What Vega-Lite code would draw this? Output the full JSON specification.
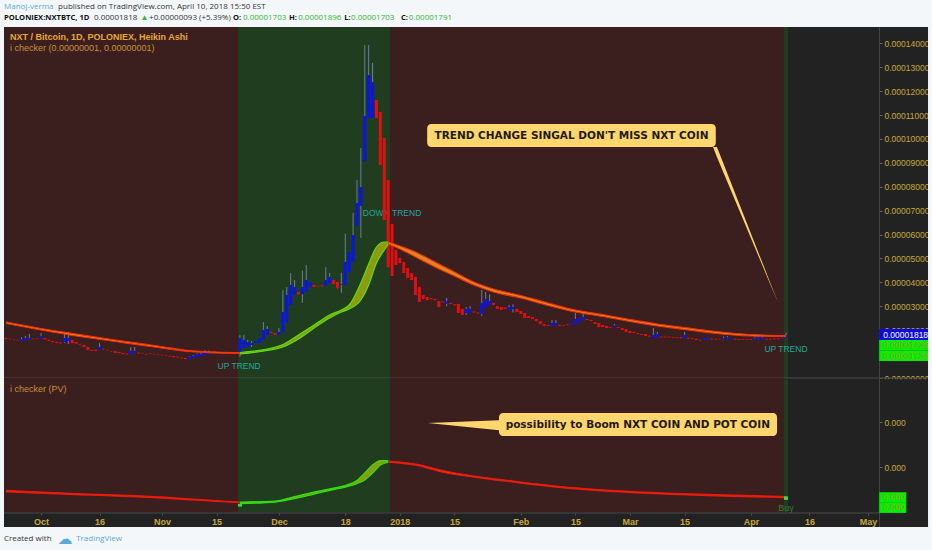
{
  "$schema": "https://vega.github.io/schema/vega-lite/v6.json",
  "width": 932,
  "height": 550,
  "autosize": {"type": "none"},
  "padding": 0,
  "background": "#f4f7fa",
  "config": {"view": {"stroke": null, "fill": "#222222"}, "text": {"font": "Liberation Sans"}},
  "datasets": {
    "phases": [
      {"start": "2017-09-21T12:00:00Z", "end": "2017-11-20T12:00:00Z", "trend": "down"},
      {"start": "2017-11-20T12:00:00Z", "end": "2017-12-29T12:00:00Z", "trend": "up"},
      {"start": "2017-12-29T12:00:00Z", "end": "2018-04-09T12:00:00Z", "trend": "down"},
      {"start": "2018-04-09T12:00:00Z", "end": "2018-04-10T12:00:00Z", "trend": "up"}
    ],
    "candles": [
      {"date": "2017-09-22", "open": 1670, "close": 1630, "high": 1680, "low": 1620},
      {"date": "2017-09-23", "open": 1640, "close": 1620, "high": 1640, "low": 1620},
      {"date": "2017-09-24", "open": 1600, "close": 1580, "high": 1600, "low": 1580},
      {"date": "2017-09-25", "open": 1600, "close": 1580, "high": 1600, "low": 1580},
      {"date": "2017-09-26", "open": 1550, "close": 1630, "high": 1700, "low": 1540},
      {"date": "2017-09-27", "open": 1590, "close": 1670, "high": 1760, "low": 1590},
      {"date": "2017-09-28", "open": 1600, "close": 1680, "high": 1840, "low": 1600},
      {"date": "2017-09-29", "open": 1640, "close": 1620, "high": 1640, "low": 1620},
      {"date": "2017-09-30", "open": 1650, "close": 1630, "high": 1650, "low": 1630},
      {"date": "2017-10-01", "open": 1670, "close": 1760, "high": 1880, "low": 1670},
      {"date": "2017-10-02", "open": 1670, "close": 1620, "high": 1670, "low": 1620},
      {"date": "2017-10-03", "open": 1600, "close": 1550, "high": 1600, "low": 1550},
      {"date": "2017-10-04", "open": 1550, "close": 1500, "high": 1550, "low": 1500},
      {"date": "2017-10-05", "open": 1510, "close": 1460, "high": 1510, "low": 1460},
      {"date": "2017-10-06", "open": 1480, "close": 1450, "high": 1480, "low": 1450},
      {"date": "2017-10-07", "open": 1500, "close": 1670, "high": 1900, "low": 1460},
      {"date": "2017-10-08", "open": 1550, "close": 1670, "high": 1930, "low": 1420},
      {"date": "2017-10-09", "open": 1590, "close": 1460, "high": 1590, "low": 1460},
      {"date": "2017-10-10", "open": 1510, "close": 1440, "high": 1510, "low": 1440},
      {"date": "2017-10-11", "open": 1430, "close": 1400, "high": 1430, "low": 1400},
      {"date": "2017-10-12", "open": 1380, "close": 1300, "high": 1380, "low": 1300},
      {"date": "2017-10-13", "open": 1300, "close": 1170, "high": 1300, "low": 1170},
      {"date": "2017-10-14", "open": 1170, "close": 1130, "high": 1170, "low": 1130},
      {"date": "2017-10-15", "open": 1180, "close": 1130, "high": 1180, "low": 1130},
      {"date": "2017-10-16", "open": 1170, "close": 1300, "high": 1460, "low": 1170},
      {"date": "2017-10-17", "open": 1220, "close": 1200, "high": 1220, "low": 1200},
      {"date": "2017-10-18", "open": 1180, "close": 1160, "high": 1180, "low": 1160},
      {"date": "2017-10-19", "open": 1130, "close": 1110, "high": 1130, "low": 1110},
      {"date": "2017-10-20", "open": 1130, "close": 1050, "high": 1130, "low": 1050},
      {"date": "2017-10-21", "open": 1090, "close": 1040, "high": 1090, "low": 1040},
      {"date": "2017-10-22", "open": 1050, "close": 1000, "high": 1050, "low": 1000},
      {"date": "2017-10-23", "open": 1020, "close": 990, "high": 1020, "low": 990},
      {"date": "2017-10-24", "open": 1000, "close": 1130, "high": 1290, "low": 1000},
      {"date": "2017-10-25", "open": 1050, "close": 1130, "high": 1300, "low": 1050},
      {"date": "2017-10-26", "open": 1060, "close": 1030, "high": 1060, "low": 1030},
      {"date": "2017-10-27", "open": 1050, "close": 1030, "high": 1050, "low": 1030},
      {"date": "2017-10-28", "open": 1010, "close": 990, "high": 1010, "low": 990},
      {"date": "2017-10-29", "open": 1030, "close": 1010, "high": 1030, "low": 1010},
      {"date": "2017-10-30", "open": 1010, "close": 990, "high": 1010, "low": 990},
      {"date": "2017-10-31", "open": 990, "close": 970, "high": 990, "low": 970},
      {"date": "2017-11-01", "open": 970, "close": 950, "high": 970, "low": 950},
      {"date": "2017-11-02", "open": 950, "close": 930, "high": 950, "low": 930},
      {"date": "2017-11-03", "open": 930, "close": 900, "high": 930, "low": 900},
      {"date": "2017-11-04", "open": 920, "close": 870, "high": 920, "low": 870},
      {"date": "2017-11-05", "open": 890, "close": 860, "high": 890, "low": 860},
      {"date": "2017-11-06", "open": 850, "close": 820, "high": 850, "low": 820},
      {"date": "2017-11-07", "open": 840, "close": 790, "high": 840, "low": 790},
      {"date": "2017-11-08", "open": 790, "close": 880, "high": 900, "low": 790},
      {"date": "2017-11-09", "open": 840, "close": 920, "high": 960, "low": 840},
      {"date": "2017-11-10", "open": 880, "close": 1010, "high": 1040, "low": 880},
      {"date": "2017-11-11", "open": 920, "close": 1010, "high": 1080, "low": 920},
      {"date": "2017-11-12", "open": 960, "close": 1090, "high": 1170, "low": 960},
      {"date": "2017-11-13", "open": 1000, "close": 1090, "high": 1150, "low": 1000},
      {"date": "2017-11-14", "open": 1090, "close": 1050, "high": 1090, "low": 1050},
      {"date": "2017-11-15", "open": 1060, "close": 1040, "high": 1060, "low": 1040},
      {"date": "2017-11-16", "open": 1060, "close": 1040, "high": 1060, "low": 1040},
      {"date": "2017-11-17", "open": 1050, "close": 1030, "high": 1050, "low": 1030},
      {"date": "2017-11-18", "open": 1070, "close": 1040, "high": 1070, "low": 1040},
      {"date": "2017-11-19", "open": 1090, "close": 1050, "high": 1090, "low": 1050},
      {"date": "2017-11-20", "open": 1090, "close": 1050, "high": 1090, "low": 1050},
      {"date": "2017-11-21", "open": 1050, "close": 1670, "high": 1800, "low": 890},
      {"date": "2017-11-22", "open": 1255, "close": 1590, "high": 1800, "low": 1250},
      {"date": "2017-11-23", "open": 1300, "close": 1510, "high": 1590, "low": 1300},
      {"date": "2017-11-24", "open": 1380, "close": 1460, "high": 1550, "low": 1300},
      {"date": "2017-11-25", "open": 1460, "close": 1550, "high": 1550, "low": 1460},
      {"date": "2017-11-26", "open": 1460, "close": 1670, "high": 1670, "low": 1460},
      {"date": "2017-11-27", "open": 1590, "close": 2010, "high": 2340, "low": 1590},
      {"date": "2017-11-28", "open": 1800, "close": 2050, "high": 2180, "low": 1800},
      {"date": "2017-11-29", "open": 1930, "close": 1880, "high": 1930, "low": 1880},
      {"date": "2017-11-30", "open": 1880, "close": 1800, "high": 1880, "low": 1800},
      {"date": "2017-12-01", "open": 1800, "close": 1925, "high": 2090, "low": 1800},
      {"date": "2017-12-02", "open": 1925, "close": 2760, "high": 3680, "low": 1925},
      {"date": "2017-12-03", "open": 2300, "close": 3470, "high": 3800, "low": 2300},
      {"date": "2017-12-04", "open": 3050, "close": 3890, "high": 4390, "low": 3050},
      {"date": "2017-12-05", "open": 3470, "close": 3810, "high": 4100, "low": 3470},
      {"date": "2017-12-06", "open": 3600, "close": 3500, "high": 3600, "low": 3500},
      {"date": "2017-12-07", "open": 3510, "close": 3810, "high": 4500, "low": 3140},
      {"date": "2017-12-08", "open": 3600, "close": 4100, "high": 4730, "low": 3600},
      {"date": "2017-12-09", "open": 3810, "close": 4020, "high": 4020, "low": 3810},
      {"date": "2017-12-10", "open": 3890, "close": 3810, "high": 3890, "low": 3810},
      {"date": "2017-12-11", "open": 3850, "close": 3830, "high": 3850, "low": 3830},
      {"date": "2017-12-12", "open": 3870, "close": 3840, "high": 3870, "low": 3840},
      {"date": "2017-12-13", "open": 3850, "close": 4100, "high": 4640, "low": 3850},
      {"date": "2017-12-14", "open": 3970, "close": 4230, "high": 4390, "low": 3970},
      {"date": "2017-12-15", "open": 4100, "close": 3930, "high": 4100, "low": 3930},
      {"date": "2017-12-16", "open": 4020, "close": 3770, "high": 4020, "low": 3700},
      {"date": "2017-12-17", "open": 3890, "close": 3930, "high": 4400, "low": 3560},
      {"date": "2017-12-18", "open": 3890, "close": 4850, "high": 6040, "low": 3890},
      {"date": "2017-12-19", "open": 4440, "close": 5270, "high": 5270, "low": 4440},
      {"date": "2017-12-20", "open": 4850, "close": 5980, "high": 6900, "low": 4850},
      {"date": "2017-12-21", "open": 6360, "close": 7320, "high": 8280, "low": 6360},
      {"date": "2017-12-22", "open": 7200, "close": 7990, "high": 9620, "low": 5860},
      {"date": "2017-12-23", "open": 9080, "close": 10960, "high": 13930, "low": 9080},
      {"date": "2017-12-24", "open": 10880, "close": 12680, "high": 13930, "low": 10880},
      {"date": "2017-12-25", "open": 10880, "close": 12380, "high": 13180, "low": 10880},
      {"date": "2017-12-26", "open": 11630, "close": 10880, "high": 11630, "low": 10880},
      {"date": "2017-12-27", "open": 11130, "close": 8910, "high": 11130, "low": 8910},
      {"date": "2017-12-28", "open": 10040, "close": 6610, "high": 10040, "low": 6610},
      {"date": "2017-12-29", "open": 8280, "close": 4640, "high": 8280, "low": 4640},
      {"date": "2017-12-30", "open": 6440, "close": 4270, "high": 6440, "low": 4270},
      {"date": "2017-12-31", "open": 5360, "close": 4730, "high": 5360, "low": 4730},
      {"date": "2018-01-01", "open": 5020, "close": 4810, "high": 5020, "low": 4810},
      {"date": "2018-01-02", "open": 4850, "close": 4390, "high": 4850, "low": 4390},
      {"date": "2018-01-03", "open": 4600, "close": 4180, "high": 4600, "low": 4180},
      {"date": "2018-01-04", "open": 4390, "close": 4100, "high": 4390, "low": 4100},
      {"date": "2018-01-05", "open": 4230, "close": 3470, "high": 4230, "low": 3470},
      {"date": "2018-01-06", "open": 3810, "close": 3180, "high": 3810, "low": 3180},
      {"date": "2018-01-07", "open": 3470, "close": 3310, "high": 3470, "low": 3310},
      {"date": "2018-01-08", "open": 3390, "close": 3260, "high": 3390, "low": 3260},
      {"date": "2018-01-09", "open": 3350, "close": 3300, "high": 3350, "low": 3300},
      {"date": "2018-01-10", "open": 3310, "close": 3260, "high": 3310, "low": 3260},
      {"date": "2018-01-11", "open": 3220, "close": 2970, "high": 3220, "low": 2970},
      {"date": "2018-01-12", "open": 3200, "close": 3170, "high": 3200, "low": 3170},
      {"date": "2018-01-13", "open": 3100, "close": 3220, "high": 3350, "low": 3000},
      {"date": "2018-01-14", "open": 3140, "close": 3100, "high": 3140, "low": 3100},
      {"date": "2018-01-15", "open": 3080, "close": 3040, "high": 3080, "low": 3040},
      {"date": "2018-01-16", "open": 3100, "close": 2720, "high": 3100, "low": 2720},
      {"date": "2018-01-17", "open": 2890, "close": 2640, "high": 2890, "low": 2640},
      {"date": "2018-01-18", "open": 2720, "close": 2890, "high": 2970, "low": 2640},
      {"date": "2018-01-19", "open": 2720, "close": 2890, "high": 3010, "low": 2720},
      {"date": "2018-01-20", "open": 2780, "close": 2740, "high": 2780, "low": 2740},
      {"date": "2018-01-21", "open": 2740, "close": 2700, "high": 2740, "low": 2700},
      {"date": "2018-01-22", "open": 2680, "close": 3140, "high": 3680, "low": 2600},
      {"date": "2018-01-23", "open": 2930, "close": 3310, "high": 3600, "low": 2930},
      {"date": "2018-01-24", "open": 3050, "close": 3220, "high": 3500, "low": 3050},
      {"date": "2018-01-25", "open": 3140, "close": 3060, "high": 3140, "low": 3060},
      {"date": "2018-01-26", "open": 3010, "close": 2890, "high": 3010, "low": 2890},
      {"date": "2018-01-27", "open": 2970, "close": 2850, "high": 2970, "low": 2850},
      {"date": "2018-01-28", "open": 2950, "close": 2890, "high": 2950, "low": 2890},
      {"date": "2018-01-29", "open": 2850, "close": 2970, "high": 3050, "low": 2850},
      {"date": "2018-01-30", "open": 2890, "close": 2970, "high": 3080, "low": 2740},
      {"date": "2018-01-31", "open": 2890, "close": 2760, "high": 2890, "low": 2760},
      {"date": "2018-02-01", "open": 2800, "close": 2680, "high": 2800, "low": 2680},
      {"date": "2018-02-02", "open": 2720, "close": 2510, "high": 2720, "low": 2510},
      {"date": "2018-02-03", "open": 2590, "close": 2510, "high": 2590, "low": 2510},
      {"date": "2018-02-04", "open": 2550, "close": 2470, "high": 2550, "low": 2470},
      {"date": "2018-02-05", "open": 2470, "close": 2380, "high": 2470, "low": 2380},
      {"date": "2018-02-06", "open": 2380, "close": 2260, "high": 2380, "low": 2260},
      {"date": "2018-02-07", "open": 2260, "close": 2180, "high": 2260, "low": 2180},
      {"date": "2018-02-08", "open": 2220, "close": 2180, "high": 2220, "low": 2180},
      {"date": "2018-02-09", "open": 2180, "close": 2300, "high": 2430, "low": 2180},
      {"date": "2018-02-10", "open": 2220, "close": 2300, "high": 2430, "low": 2220},
      {"date": "2018-02-11", "open": 2220, "close": 2180, "high": 2220, "low": 2180},
      {"date": "2018-02-12", "open": 2200, "close": 2170, "high": 2200, "low": 2170},
      {"date": "2018-02-13", "open": 2240, "close": 2210, "high": 2240, "low": 2210},
      {"date": "2018-02-14", "open": 2220, "close": 2300, "high": 2300, "low": 2220},
      {"date": "2018-02-15", "open": 2260, "close": 2470, "high": 2720, "low": 2260},
      {"date": "2018-02-16", "open": 2340, "close": 2510, "high": 2510, "low": 2340},
      {"date": "2018-02-17", "open": 2430, "close": 2550, "high": 2680, "low": 2430},
      {"date": "2018-02-18", "open": 2470, "close": 2430, "high": 2470, "low": 2430},
      {"date": "2018-02-19", "open": 2430, "close": 2380, "high": 2430, "low": 2380},
      {"date": "2018-02-20", "open": 2340, "close": 2260, "high": 2340, "low": 2260},
      {"date": "2018-02-21", "open": 2300, "close": 2130, "high": 2300, "low": 2130},
      {"date": "2018-02-22", "open": 2220, "close": 2130, "high": 2220, "low": 2130},
      {"date": "2018-02-23", "open": 2180, "close": 2090, "high": 2180, "low": 2090},
      {"date": "2018-02-24", "open": 2130, "close": 2100, "high": 2130, "low": 2100},
      {"date": "2018-02-25", "open": 2130, "close": 2200, "high": 2260, "low": 2130},
      {"date": "2018-02-26", "open": 2130, "close": 2090, "high": 2130, "low": 2090},
      {"date": "2018-02-27", "open": 2090, "close": 2010, "high": 2090, "low": 2010},
      {"date": "2018-02-28", "open": 2050, "close": 1930, "high": 2050, "low": 1930},
      {"date": "2018-03-01", "open": 1970, "close": 1880, "high": 1970, "low": 1880},
      {"date": "2018-03-02", "open": 1930, "close": 1880, "high": 1930, "low": 1880},
      {"date": "2018-03-03", "open": 1880, "close": 1840, "high": 1880, "low": 1840},
      {"date": "2018-03-04", "open": 1840, "close": 1800, "high": 1840, "low": 1800},
      {"date": "2018-03-05", "open": 1840, "close": 1760, "high": 1840, "low": 1760},
      {"date": "2018-03-06", "open": 1770, "close": 1740, "high": 1770, "low": 1740},
      {"date": "2018-03-07", "open": 1670, "close": 1800, "high": 2090, "low": 1670},
      {"date": "2018-03-08", "open": 1710, "close": 1840, "high": 1930, "low": 1710},
      {"date": "2018-03-09", "open": 1730, "close": 1700, "high": 1730, "low": 1700},
      {"date": "2018-03-10", "open": 1730, "close": 1700, "high": 1730, "low": 1700},
      {"date": "2018-03-11", "open": 1730, "close": 1700, "high": 1730, "low": 1700},
      {"date": "2018-03-12", "open": 1720, "close": 1690, "high": 1720, "low": 1690},
      {"date": "2018-03-13", "open": 1700, "close": 1670, "high": 1700, "low": 1670},
      {"date": "2018-03-14", "open": 1700, "close": 1670, "high": 1700, "low": 1670},
      {"date": "2018-03-15", "open": 1670, "close": 1800, "high": 1930, "low": 1670},
      {"date": "2018-03-16", "open": 1680, "close": 1650, "high": 1680, "low": 1650},
      {"date": "2018-03-17", "open": 1660, "close": 1630, "high": 1660, "low": 1630},
      {"date": "2018-03-18", "open": 1640, "close": 1590, "high": 1640, "low": 1590},
      {"date": "2018-03-19", "open": 1600, "close": 1570, "high": 1600, "low": 1570},
      {"date": "2018-03-20", "open": 1590, "close": 1670, "high": 1670, "low": 1590},
      {"date": "2018-03-21", "open": 1620, "close": 1680, "high": 1680, "low": 1620},
      {"date": "2018-03-22", "open": 1650, "close": 1620, "high": 1650, "low": 1620},
      {"date": "2018-03-23", "open": 1640, "close": 1610, "high": 1640, "low": 1610},
      {"date": "2018-03-24", "open": 1640, "close": 1620, "high": 1640, "low": 1620},
      {"date": "2018-03-25", "open": 1620, "close": 1680, "high": 1740, "low": 1620},
      {"date": "2018-03-26", "open": 1640, "close": 1710, "high": 1760, "low": 1640},
      {"date": "2018-03-27", "open": 1630, "close": 1680, "high": 1680, "low": 1630},
      {"date": "2018-03-28", "open": 1640, "close": 1610, "high": 1640, "low": 1610},
      {"date": "2018-03-29", "open": 1630, "close": 1600, "high": 1630, "low": 1600},
      {"date": "2018-03-30", "open": 1630, "close": 1600, "high": 1630, "low": 1600},
      {"date": "2018-03-31", "open": 1620, "close": 1590, "high": 1620, "low": 1590},
      {"date": "2018-04-01", "open": 1620, "close": 1590, "high": 1620, "low": 1590},
      {"date": "2018-04-02", "open": 1610, "close": 1680, "high": 1720, "low": 1610},
      {"date": "2018-04-03", "open": 1620, "close": 1690, "high": 1690, "low": 1620},
      {"date": "2018-04-04", "open": 1620, "close": 1690, "high": 1740, "low": 1620},
      {"date": "2018-04-05", "open": 1640, "close": 1610, "high": 1640, "low": 1610},
      {"date": "2018-04-06", "open": 1640, "close": 1610, "high": 1640, "low": 1610},
      {"date": "2018-04-07", "open": 1650, "close": 1620, "high": 1650, "low": 1620},
      {"date": "2018-04-08", "open": 1650, "close": 1620, "high": 1650, "low": 1620},
      {"date": "2018-04-09", "open": 1640, "close": 1700, "high": 1700, "low": 1640},
      {"date": "2018-04-10", "open": 1703, "close": 1791, "high": 1896, "low": 1703}
    ],
    "bands": [
      {"date": "2017-09-22", "upper": 2343, "lower": 2280, "leg": "early"},
      {"date": "2017-10-01", "upper": 2071, "lower": 2008, "leg": "early"},
      {"date": "2017-10-10", "upper": 1841, "lower": 1757, "leg": "early"},
      {"date": "2017-10-20", "upper": 1590, "lower": 1527, "leg": "early"},
      {"date": "2017-10-30", "upper": 1360, "lower": 1297, "leg": "early"},
      {"date": "2017-11-08", "upper": 1151, "lower": 1109, "leg": "early"},
      {"date": "2017-11-15", "upper": 1088, "lower": 1046, "leg": "early"},
      {"date": "2017-11-21", "upper": 1067, "lower": 1025, "leg": "early"},
      {"date": "2017-11-21", "upper": 1067, "lower": 1004, "leg": "rally"},
      {"date": "2017-11-28", "upper": 1213, "lower": 1151, "leg": "rally"},
      {"date": "2017-12-02", "upper": 1402, "lower": 1297, "leg": "rally"},
      {"date": "2017-12-06", "upper": 1799, "lower": 1632, "leg": "rally"},
      {"date": "2017-12-10", "upper": 2218, "lower": 2092, "leg": "rally"},
      {"date": "2017-12-14", "upper": 2636, "lower": 2510, "leg": "rally"},
      {"date": "2017-12-17", "upper": 2845, "lower": 2761, "leg": "rally"},
      {"date": "2017-12-19", "upper": 3054, "lower": 2887, "leg": "rally"},
      {"date": "2017-12-22", "upper": 3975, "lower": 3264, "leg": "rally"},
      {"date": "2017-12-24", "upper": 4770, "lower": 3891, "leg": "rally"},
      {"date": "2017-12-26", "upper": 5481, "lower": 4812, "leg": "rally"},
      {"date": "2017-12-28", "upper": 5690, "lower": 5356, "leg": "rally"},
      {"date": "2017-12-29", "upper": 5690, "lower": 5607, "leg": "rally"},
      {"date": "2017-12-29", "upper": 5690, "lower": 5607, "leg": "decline"},
      {"date": "2018-01-01", "upper": 5523, "lower": 5397, "leg": "decline"},
      {"date": "2018-01-05", "upper": 5272, "lower": 5063, "leg": "decline"},
      {"date": "2018-01-10", "upper": 4853, "lower": 4644, "leg": "decline"},
      {"date": "2018-01-15", "upper": 4435, "lower": 4268, "leg": "decline"},
      {"date": "2018-01-20", "upper": 4017, "lower": 3891, "leg": "decline"},
      {"date": "2018-01-25", "upper": 3724, "lower": 3598, "leg": "decline"},
      {"date": "2018-02-01", "upper": 3452, "lower": 3347, "leg": "decline"},
      {"date": "2018-02-08", "upper": 3138, "lower": 3033, "leg": "decline"},
      {"date": "2018-02-15", "upper": 2845, "lower": 2761, "leg": "decline"},
      {"date": "2018-02-22", "upper": 2657, "lower": 2573, "leg": "decline"},
      {"date": "2018-03-01", "upper": 2448, "lower": 2364, "leg": "decline"},
      {"date": "2018-03-08", "upper": 2259, "lower": 2176, "leg": "decline"},
      {"date": "2018-03-15", "upper": 2113, "lower": 2029, "leg": "decline"},
      {"date": "2018-03-22", "upper": 1966, "lower": 1883, "leg": "decline"},
      {"date": "2018-04-01", "upper": 1820, "lower": 1757, "leg": "decline"},
      {"date": "2018-04-10", "upper": 1778, "lower": 1736, "leg": "decline"}
    ],
    "pvBands": [
      {"date": "2017-09-22", "upper": 48, "lower": 45, "leg": "early"},
      {"date": "2017-10-10", "upper": 41, "lower": 39, "leg": "early"},
      {"date": "2017-10-30", "upper": 34, "lower": 32, "leg": "early"},
      {"date": "2017-11-15", "upper": 25, "lower": 24, "leg": "early"},
      {"date": "2017-11-21", "upper": 22, "lower": 21, "leg": "early"},
      {"date": "2017-11-21", "upper": 22.2, "lower": 18.9, "leg": "rally"},
      {"date": "2017-11-30", "upper": 24.4, "lower": 22.2, "leg": "rally"},
      {"date": "2017-12-05", "upper": 34.4, "lower": 30, "leg": "rally"},
      {"date": "2017-12-10", "upper": 44.4, "lower": 40, "leg": "rally"},
      {"date": "2017-12-15", "upper": 53.3, "lower": 50, "leg": "rally"},
      {"date": "2017-12-18", "upper": 58.9, "lower": 55.6, "leg": "rally"},
      {"date": "2017-12-21", "upper": 70, "lower": 63.3, "leg": "rally"},
      {"date": "2017-12-23", "upper": 86.7, "lower": 71.1, "leg": "rally"},
      {"date": "2017-12-25", "upper": 104.4, "lower": 86.7, "leg": "rally"},
      {"date": "2017-12-27", "upper": 114.4, "lower": 104.4, "leg": "rally"},
      {"date": "2017-12-29", "upper": 114.4, "lower": 111.1, "leg": "rally"},
      {"date": "2017-12-29", "upper": 113.3, "lower": 111.1, "leg": "decline"},
      {"date": "2018-01-05", "upper": 106.7, "lower": 104.4, "leg": "decline"},
      {"date": "2018-01-12", "upper": 92.2, "lower": 88.9, "leg": "decline"},
      {"date": "2018-01-20", "upper": 80, "lower": 77.8, "leg": "decline"},
      {"date": "2018-01-30", "upper": 68.9, "lower": 66.7, "leg": "decline"},
      {"date": "2018-02-10", "upper": 57.8, "lower": 55.6, "leg": "decline"},
      {"date": "2018-02-25", "upper": 47.8, "lower": 45.6, "leg": "decline"},
      {"date": "2018-03-10", "upper": 42.2, "lower": 40, "leg": "decline"},
      {"date": "2018-03-25", "upper": 37.8, "lower": 35.6, "leg": "decline"},
      {"date": "2018-04-10", "upper": 34.4, "lower": 32.2, "leg": "decline"}
    ],
    "priceTags": [
      {"kind": "last", "start": "2018-05-03T22:00:00Z", "end": "2018-05-16T10:00:00Z", "textAt": "2018-05-04T22:00:00Z", "lo": 1590, "hi": 2050, "pos": 1820, "label": "0.00001818"},
      {"kind": "band", "start": "2018-05-03T22:00:00Z", "end": "2018-05-16T10:00:00Z", "textAt": "2018-05-04T22:00:00Z", "lo": 1151, "hi": 1590, "pos": 1381, "label": "0.00001736"},
      {"kind": "band", "start": "2018-05-03T22:00:00Z", "end": "2018-05-16T10:00:00Z", "textAt": "2018-05-04T22:00:00Z", "lo": 711, "hi": 1151, "pos": 933, "label": "0.00001734"}
    ],
    "pvTags": [
      {"start": "2018-05-03T22:00:00Z", "end": "2018-05-10T20:00:00Z", "textAt": "2018-05-04T22:00:00Z", "lo": 22, "hi": 44, "pos": 33, "label": "0.000"},
      {"start": "2018-05-03T22:00:00Z", "end": "2018-05-10T20:00:00Z", "textAt": "2018-05-04T22:00:00Z", "lo": -2, "hi": 22, "pos": 11, "label": "0.000"}
    ]
  },
  "layer": [
    {
      "layer": [
        {
          "data": {"name": "phases"},
          "mark": {"type": "rect"},
          "encoding": {
            "x": {
              "field": "start",
              "type": "temporal",
              "scale": {
                "type": "utc",
                "padding": 0,
                "domain": [{"year": 2017, "month": "sep", "date": 21, "hours": 12, "utc": true}, {"year": 2018, "month": "may", "date": 16, "hours": 16, "utc": true}],
                "range": [4, 929]
              },
              "axis": {
                "title": null,
                "orient": "bottom",
                "offset": -37,
                "domain": false,
                "grid": false,
                "tickSize": 2,
                "tickColor": "#555555",
                "labelColor": "#c8a83c",
                "labelFont": "Liberation Sans",
                "labelFontSize": 9,
                "labelFontWeight": "bold",
                "labelPadding": 2,
                "labelOverlap": false,
                "labelFlush": false,
                "tickCount": 30,
                "values": [
                  {"year": 2017, "month": "oct", "date": 1, "utc": true},
                  {"year": 2017, "month": "oct", "date": 16, "utc": true},
                  {"year": 2017, "month": "nov", "date": 1, "utc": true},
                  {"year": 2017, "month": "nov", "date": 15, "utc": true},
                  {"year": 2017, "month": "dec", "date": 1, "utc": true},
                  {"year": 2017, "month": "dec", "date": 18, "utc": true},
                  {"year": 2018, "month": "jan", "date": 1, "utc": true},
                  {"year": 2018, "month": "jan", "date": 15, "utc": true},
                  {"year": 2018, "month": "feb", "date": 1, "utc": true},
                  {"year": 2018, "month": "feb", "date": 15, "utc": true},
                  {"year": 2018, "month": "mar", "date": 1, "utc": true},
                  {"year": 2018, "month": "mar", "date": 15, "utc": true},
                  {"year": 2018, "month": "apr", "date": 1, "utc": true},
                  {"year": 2018, "month": "apr", "date": 16, "utc": true},
                  {"year": 2018, "month": "may", "date": 1, "utc": true}
                ],
                "labelExpr": "utcdate(datum.value) != 1 ? utcFormat(datum.value, '%-d') : (utcmonth(datum.value) == 0 ? utcFormat(datum.value, '%Y') : utcFormat(datum.value, '%b'))"
              }
            },
            "x2": {"field": "end"},
            "y": {
              "datum": 0,
              "type": "quantitative",
              "scale": {"domain": [0, 14686], "range": [378, 27], "nice": false, "zero": false},
              "axis": {
                "title": null,
                "orient": "right",
                "offset": -53,
                "grid": false,
                "tickCount": 30,
                "values": [0, 1000, 2000, 3000, 4000, 5000, 6000, 7000, 8000, 9000, 10000, 11000, 12000, 13000, 14000],
                "labelExpr": "format(datum.value / 100000000, '.8f')",
                "domainColor": "#444444",
                "tickColor": "#666666",
                "tickSize": 3,
                "labelColor": "#c8a83c",
                "labelFont": "Liberation Sans",
                "labelFontSize": 8.5,
                "labelPadding": 2,
                "labelOverlap": false,
                "labelFlush": false
              }
            },
            "y2": {"datum": 14686},
            "color": {
              "field": "trend",
              "type": "nominal",
              "legend": null,
              "scale": {"domain": ["down", "up"], "range": ["#3b1f1f", "#213d20"]}
            }
          }
        },
        {
          "data": {"values": [
            {"start": "2017-09-21T12:00:00Z", "end": "2018-05-16T16:00:00Z", "at": 0},
            {"start": "2017-09-21T12:00:00Z", "end": "2018-05-04T00:00:00Z", "at": -5648}
          ]},
          "mark": {"type": "rule", "color": "#4a4a4a", "strokeWidth": 1},
          "encoding": {
            "x": {"field": "start", "type": "temporal"},
            "x2": {"field": "end"},
            "y": {"field": "at", "type": "quantitative"}
          }
        },
        {
          "data": {"values": [
            {"date": "2017-12-30T00:00:00Z", "price": 6904, "label": "DOWN TREND"},
            {"date": "2017-11-20T19:00:00Z", "price": 502, "label": "UP TREND"},
            {"date": "2018-04-10T00:00:00Z", "price": 1213, "label": "UP TREND"}
          ]},
          "mark": {"type": "text", "fontSize": 8.5, "color": "#1fa898", "align": "center", "baseline": "middle"},
          "encoding": {
            "x": {"field": "date", "type": "temporal"},
            "y": {"field": "price", "type": "quantitative"},
            "text": {"field": "label"}
          }
        },
        {
          "data": {"name": "candles"},
          "mark": {"type": "rule", "strokeWidth": 1},
          "encoding": {
            "x": {"field": "date", "type": "temporal"},
            "y": {"field": "low", "type": "quantitative"},
            "y2": {"field": "high"},
            "color": {"condition": {"test": "datum.close >= datum.open", "value": "#66809c"}, "value": "#e01010"}
          }
        },
        {
          "data": {"name": "candles"},
          "mark": {"type": "bar", "size": 3},
          "encoding": {
            "x": {"field": "date", "type": "temporal"},
            "y": {"field": "open", "type": "quantitative"},
            "y2": {"field": "close"},
            "color": {"condition": {"test": "datum.close >= datum.open", "value": "#0a14e6"}, "value": "#e01010"}
          }
        },
        {
          "data": {"name": "bands"},
          "mark": {"type": "area", "interpolate": "monotone"},
          "encoding": {
            "x": {"field": "date", "type": "temporal"},
            "y": {"field": "upper", "type": "quantitative"},
            "y2": {"field": "lower"},
            "fill": {
              "field": "leg",
              "type": "nominal",
              "legend": null,
              "scale": {"domain": ["early", "rally", "decline"], "range": ["#ec8a1e", "#8f9a12", "#e0861e"]}
            }
          }
        },
        {
          "data": {"name": "bands"},
          "mark": {"type": "line", "interpolate": "monotone", "strokeWidth": 1.2},
          "encoding": {
            "x": {"field": "date", "type": "temporal"},
            "y": {"field": "upper", "type": "quantitative"},
            "stroke": {
              "field": "leg",
              "type": "nominal",
              "legend": null,
              "scale": {"domain": ["early", "rally", "decline"], "range": ["#f0300c", "#58e010", "#f0300c"]}
            }
          }
        },
        {
          "data": {"name": "bands"},
          "mark": {"type": "line", "interpolate": "monotone", "strokeWidth": 1.2},
          "encoding": {
            "x": {"field": "date", "type": "temporal"},
            "y": {"field": "lower", "type": "quantitative"},
            "stroke": {
              "field": "leg",
              "type": "nominal",
              "legend": null,
              "scale": {"domain": ["early", "rally", "decline"], "range": ["#f0300c", "#58e010", "#f0300c"]}
            }
          }
        },
        {
          "data": {"values": [
            {"x": "2018-03-22T07:00:00Z", "top": 9665, "bottom": 9665},
            {"x": "2018-03-23T07:00:00Z", "top": 9665, "bottom": 9245},
            {"x": "2018-04-08T00:00:00Z", "top": 3138, "bottom": 3138}
          ]},
          "mark": {"type": "area", "color": "#ffd56e"},
          "encoding": {
            "x": {"field": "x", "type": "temporal"},
            "y": {"field": "top", "type": "quantitative"},
            "y2": {"field": "bottom"}
          }
        },
        {
          "data": {"values": [
            {"start": "2018-01-08T00:00:00Z", "end": "2018-03-23T00:00:00Z", "lo": 9665, "hi": 10627}
          ]},
          "mark": {"type": "rect", "color": "#ffd56e", "cornerRadius": 4},
          "encoding": {
            "x": {"field": "start", "type": "temporal"},
            "x2": {"field": "end"},
            "y": {"field": "lo", "type": "quantitative"},
            "y2": {"field": "hi"}
          }
        },
        {
          "data": {"values": [
            {"date": "2018-02-14T00:00:00Z", "price": 10146, "label": "TREND CHANGE SINGAL DON'T MISS NXT COIN"}
          ]},
          "mark": {"type": "text", "font": "DejaVu Sans", "fontWeight": "bold", "fontSize": 10.5, "color": "#1e1a10", "align": "center", "baseline": "middle"},
          "encoding": {
            "x": {"field": "date", "type": "temporal"},
            "y": {"field": "price", "type": "quantitative"},
            "text": {"field": "label"}
          }
        },
        {
          "data": {"name": "priceTags"},
          "mark": {"type": "rect"},
          "encoding": {
            "x": {"field": "start", "type": "temporal"},
            "x2": {"field": "end"},
            "y": {"field": "lo", "type": "quantitative"},
            "y2": {"field": "hi"},
            "color": {"condition": {"test": "datum.kind == 'last'", "value": "#0a0ae0"}, "value": "#00ee00"}
          }
        },
        {
          "data": {"name": "priceTags"},
          "mark": {"type": "text", "fontSize": 8.5, "align": "left", "baseline": "middle"},
          "encoding": {
            "x": {"field": "textAt", "type": "temporal"},
            "y": {"field": "pos", "type": "quantitative"},
            "text": {"field": "label"},
            "color": {"condition": {"test": "datum.kind == 'last'", "value": "#ffffff"}, "value": "#9aa030"}
          }
        },
        {
          "data": {"values": [
            {"date": "2017-09-23T01:00:00Z", "price": 14267, "label": "NXT / Bitcoin, 1D, POLONIEX, Heikin Ashi"}
          ]},
          "mark": {"type": "text", "fontSize": 9, "fontWeight": "bold", "color": "#e8a838", "align": "left", "baseline": "middle"},
          "encoding": {
            "x": {"field": "date", "type": "temporal"},
            "y": {"field": "price", "type": "quantitative"},
            "text": {"field": "label"}
          }
        },
        {
          "data": {"values": [
            {"date": "2017-09-23T01:00:00Z", "price": 13807, "label": "i checker (0.00000001, 0.00000001)"}
          ]},
          "mark": {"type": "text", "fontSize": 9, "color": "#c8903c", "align": "left", "baseline": "middle"},
          "encoding": {
            "x": {"field": "date", "type": "temporal"},
            "y": {"field": "price", "type": "quantitative"},
            "text": {"field": "label"}
          }
        }
      ]
    },
    {
      "layer": [
        {
          "data": {"name": "phases"},
          "mark": {"type": "rect"},
          "encoding": {
            "x": {"field": "start", "type": "temporal"},
            "x2": {"field": "end"},
            "y": {
              "datum": 0,
              "type": "quantitative",
              "scale": {"domain": [-33.3, 298], "range": [527, 378], "nice": false, "zero": false},
              "axis": {
                "title": null,
                "orient": "right",
                "offset": -53,
                "grid": false,
                "values": [100, 200],
                "labelExpr": "format(datum.value / 1000000, '.3f')",
                "domainColor": "#444444",
                "tickColor": "#666666",
                "tickSize": 3,
                "labelColor": "#c8a83c",
                "labelFont": "Liberation Sans",
                "labelFontSize": 8.5,
                "labelPadding": 2
              }
            },
            "y2": {"datum": 298},
            "color": {
              "field": "trend",
              "type": "nominal",
              "legend": null,
              "scale": {"domain": ["down", "up"], "range": ["#3b1f1f", "#213d20"]}
            }
          }
        },
        {
          "data": {"values": [
            {"start": "2018-05-04T06:00:00Z", "end": "2018-05-16T10:00:00Z", "lo": 280, "hi": 295}
          ]},
          "mark": {"type": "rect", "color": "#222222"},
          "encoding": {
            "x": {"field": "start", "type": "temporal"},
            "x2": {"field": "end"},
            "y": {"field": "lo", "type": "quantitative"},
            "y2": {"field": "hi"}
          }
        },
        {
          "data": {"name": "pvBands"},
          "mark": {"type": "area", "interpolate": "monotone"},
          "encoding": {
            "x": {"field": "date", "type": "temporal"},
            "y": {"field": "upper", "type": "quantitative"},
            "y2": {"field": "lower"},
            "fill": {
              "field": "leg",
              "type": "nominal",
              "legend": null,
              "scale": {"domain": ["early", "rally", "decline"], "range": ["#e8501c", "#8f9a12", "#e8601c"]}
            }
          }
        },
        {
          "data": {"name": "pvBands"},
          "mark": {"type": "line", "interpolate": "monotone", "strokeWidth": 1.3},
          "encoding": {
            "x": {"field": "date", "type": "temporal"},
            "y": {"field": "upper", "type": "quantitative"},
            "stroke": {
              "field": "leg",
              "type": "nominal",
              "legend": null,
              "scale": {"domain": ["early", "rally", "decline"], "range": ["#e81a0c", "#2ee010", "#e81a0c"]}
            }
          }
        },
        {
          "data": {"name": "pvBands"},
          "mark": {"type": "line", "interpolate": "monotone", "strokeWidth": 1.3},
          "encoding": {
            "x": {"field": "date", "type": "temporal"},
            "y": {"field": "lower", "type": "quantitative"},
            "stroke": {
              "field": "leg",
              "type": "nominal",
              "legend": null,
              "scale": {"domain": ["early", "rally", "decline"], "range": ["#e81a0c", "#2ee010", "#e81a0c"]}
            }
          }
        },
        {
          "data": {"values": [
            {"date": "2017-11-21", "lo": 12, "hi": 18},
            {"date": "2018-04-10", "lo": 27, "hi": 35}
          ]},
          "mark": {"type": "bar", "size": 4, "color": "#2ee050"},
          "encoding": {
            "x": {"field": "date", "type": "temporal"},
            "y": {"field": "lo", "type": "quantitative"},
            "y2": {"field": "hi"}
          }
        },
        {
          "data": {"values": [
            {"x": "2018-01-08T05:00:00Z", "top": 198, "bottom": 198},
            {"x": "2018-01-26T10:00:00Z", "top": 204, "bottom": 182}
          ]},
          "mark": {"type": "area", "color": "#ffd56e"},
          "encoding": {
            "x": {"field": "x", "type": "temporal"},
            "y": {"field": "top", "type": "quantitative"},
            "y2": {"field": "bottom"}
          }
        },
        {
          "data": {"values": [
            {"start": "2018-01-26T10:00:00Z", "end": "2018-04-07T17:00:00Z", "lo": 169, "hi": 220}
          ]},
          "mark": {"type": "rect", "color": "#ffd56e", "cornerRadius": 4},
          "encoding": {
            "x": {"field": "start", "type": "temporal"},
            "x2": {"field": "end"},
            "y": {"field": "lo", "type": "quantitative"},
            "y2": {"field": "hi"}
          }
        },
        {
          "data": {"values": [
            {"date": "2018-03-03T00:00:00Z", "pv": 194, "label": "possibility to Boom NXT COIN AND POT COIN"}
          ]},
          "mark": {"type": "text", "font": "DejaVu Sans", "fontWeight": "bold", "fontSize": 10.5, "color": "#1e1a10", "align": "center", "baseline": "middle"},
          "encoding": {
            "x": {"field": "date", "type": "temporal"},
            "y": {"field": "pv", "type": "quantitative"},
            "text": {"field": "label"}
          }
        },
        {
          "data": {"values": [
            {"date": "2017-09-23T01:00:00Z", "pv": 273, "label": "i checker (PV)"}
          ]},
          "mark": {"type": "text", "fontSize": 9, "color": "#c8903c", "align": "left", "baseline": "middle"},
          "encoding": {
            "x": {"field": "date", "type": "temporal"},
            "y": {"field": "pv", "type": "quantitative"},
            "text": {"field": "label"}
          }
        },
        {
          "data": {"values": [
            {"date": "2018-04-10T00:00:00Z", "pv": 9, "label": "Buy"}
          ]},
          "mark": {"type": "text", "fontSize": 9, "color": "#2f7d2f", "align": "center", "baseline": "middle"},
          "encoding": {
            "x": {"field": "date", "type": "temporal"},
            "y": {"field": "pv", "type": "quantitative"},
            "text": {"field": "label"}
          }
        },
        {
          "data": {"name": "pvTags"},
          "mark": {"type": "rect", "color": "#00ee00"},
          "encoding": {
            "x": {"field": "start", "type": "temporal"},
            "x2": {"field": "end"},
            "y": {"field": "lo", "type": "quantitative"},
            "y2": {"field": "hi"}
          }
        },
        {
          "data": {"name": "pvTags"},
          "mark": {"type": "text", "fontSize": 8.5, "color": "#9aa030", "align": "left", "baseline": "middle"},
          "encoding": {
            "x": {"field": "textAt", "type": "temporal"},
            "y": {"field": "pos", "type": "quantitative"},
            "text": {"field": "label"}
          }
        }
      ]
    },
    {
      "layer": [
        {
          "data": {"values": [
            {"start": "2017-09-20T00:00:00Z", "end": "2018-05-18T00:00:00Z", "lo": 14686, "hi": 16000},
            {"start": "2017-09-20T00:00:00Z", "end": "2018-05-18T00:00:00Z", "lo": -7300, "hi": -6234},
            {"start": "2017-09-20T00:00:00Z", "end": "2017-09-21T12:00:00Z", "lo": -7300, "hi": 16000},
            {"start": "2018-05-16T10:00:00Z", "end": "2018-05-18T00:00:00Z", "lo": -7300, "hi": 16000}
          ]},
          "mark": {"type": "rect", "color": "#f4f7fa"},
          "encoding": {
            "x": {"field": "start", "type": "temporal"},
            "x2": {"field": "end"},
            "y": {
              "field": "lo",
              "type": "quantitative",
              "scale": {"domain": [0, 14686], "range": [378, 27], "nice": false, "zero": false},
              "axis": null
            },
            "y2": {"field": "hi"}
          }
        },
        {
          "data": {"values": [
            {"date": "2017-09-21T12:00:00Z", "price": 15523, "label": "Manoj-verma"},
            {"date": "2017-10-10T00:00:00Z", "price": -6736, "label": "TradingView"}
          ]},
          "mark": {"type": "text", "font": "Open Sans", "fontSize": 8, "color": "#5aa9d8", "align": "left", "baseline": "middle"},
          "encoding": {
            "x": {"field": "date", "type": "temporal"},
            "y": {"field": "price", "type": "quantitative"},
            "text": {"field": "label"}
          }
        },
        {
          "data": {"values": [
            {"date": "2017-10-07T04:00:00Z", "price": -6736, "label": "☁"}
          ]},
          "mark": {"type": "text", "font": "DejaVu Sans", "fontSize": 15, "color": "#5aa9d8", "align": "center", "baseline": "middle"},
          "encoding": {
            "x": {"field": "date", "type": "temporal"},
            "y": {"field": "price", "type": "quantitative"},
            "text": {"field": "label"}
          }
        },
        {
          "data": {"values": [
            {"date": "2017-10-05T09:00:00Z", "price": 15523, "label": "published on TradingView.com, April 10, 2018 15:50 EST"},
            {"date": "2017-10-14T14:00:00Z", "price": 15062, "label": "0.00001818"},
            {"date": "2017-10-28T17:00:00Z", "price": 15062, "label": "+0.00000093 (+5.39%)"},
            {"date": "2017-09-21T12:00:00Z", "price": -6736, "label": "Created with"}
          ]},
          "mark": {"type": "text", "font": "Open Sans", "fontSize": 8, "color": "#333333", "align": "left", "baseline": "middle"},
          "encoding": {
            "x": {"field": "date", "type": "temporal"},
            "y": {"field": "price", "type": "quantitative"},
            "text": {"field": "label"}
          }
        },
        {
          "data": {"values": [
            {"date": "2017-09-21T12:00:00Z", "price": 15062, "label": "POLONIEX:NXTBTC, 1D"},
            {"date": "2017-11-19T05:00:00Z", "price": 15062, "label": "O:"},
            {"date": "2017-12-03T14:00:00Z", "price": 15062, "label": "H:"},
            {"date": "2017-12-17T17:00:00Z", "price": 15062, "label": "L:"},
            {"date": "2018-01-01T07:00:00Z", "price": 15062, "label": "C:"}
          ]},
          "mark": {"type": "text", "font": "Open Sans", "fontWeight": "bold", "fontSize": 7.6, "color": "#111111", "align": "left", "baseline": "middle"},
          "encoding": {
            "x": {"field": "date", "type": "temporal"},
            "y": {"field": "price", "type": "quantitative"},
            "text": {"field": "label"}
          }
        },
        {
          "data": {"values": [
            {"date": "2017-10-26T12:00:00Z", "price": 15062, "label": "▲"},
            {"date": "2017-11-21T19:00:00Z", "price": 15062, "label": "0.00001703"},
            {"date": "2017-12-05T22:00:00Z", "price": 15062, "label": "0.00001896"},
            {"date": "2017-12-19T12:00:00Z", "price": 15062, "label": "0.00001703"},
            {"date": "2018-01-03T07:00:00Z", "price": 15062, "label": "0.00001791"}
          ]},
          "mark": {"type": "text", "font": "Open Sans", "fontSize": 8, "color": "#2fb52f", "align": "left", "baseline": "middle"},
          "encoding": {
            "x": {"field": "date", "type": "temporal"},
            "y": {"field": "price", "type": "quantitative"},
            "text": {"field": "label"}
          }
        }
      ]
    }
  ],
  "resolve": {"scale": {"y": "independent", "color": "independent", "fill": "independent", "stroke": "independent"}, "axis": {"y": "independent"}}
}
